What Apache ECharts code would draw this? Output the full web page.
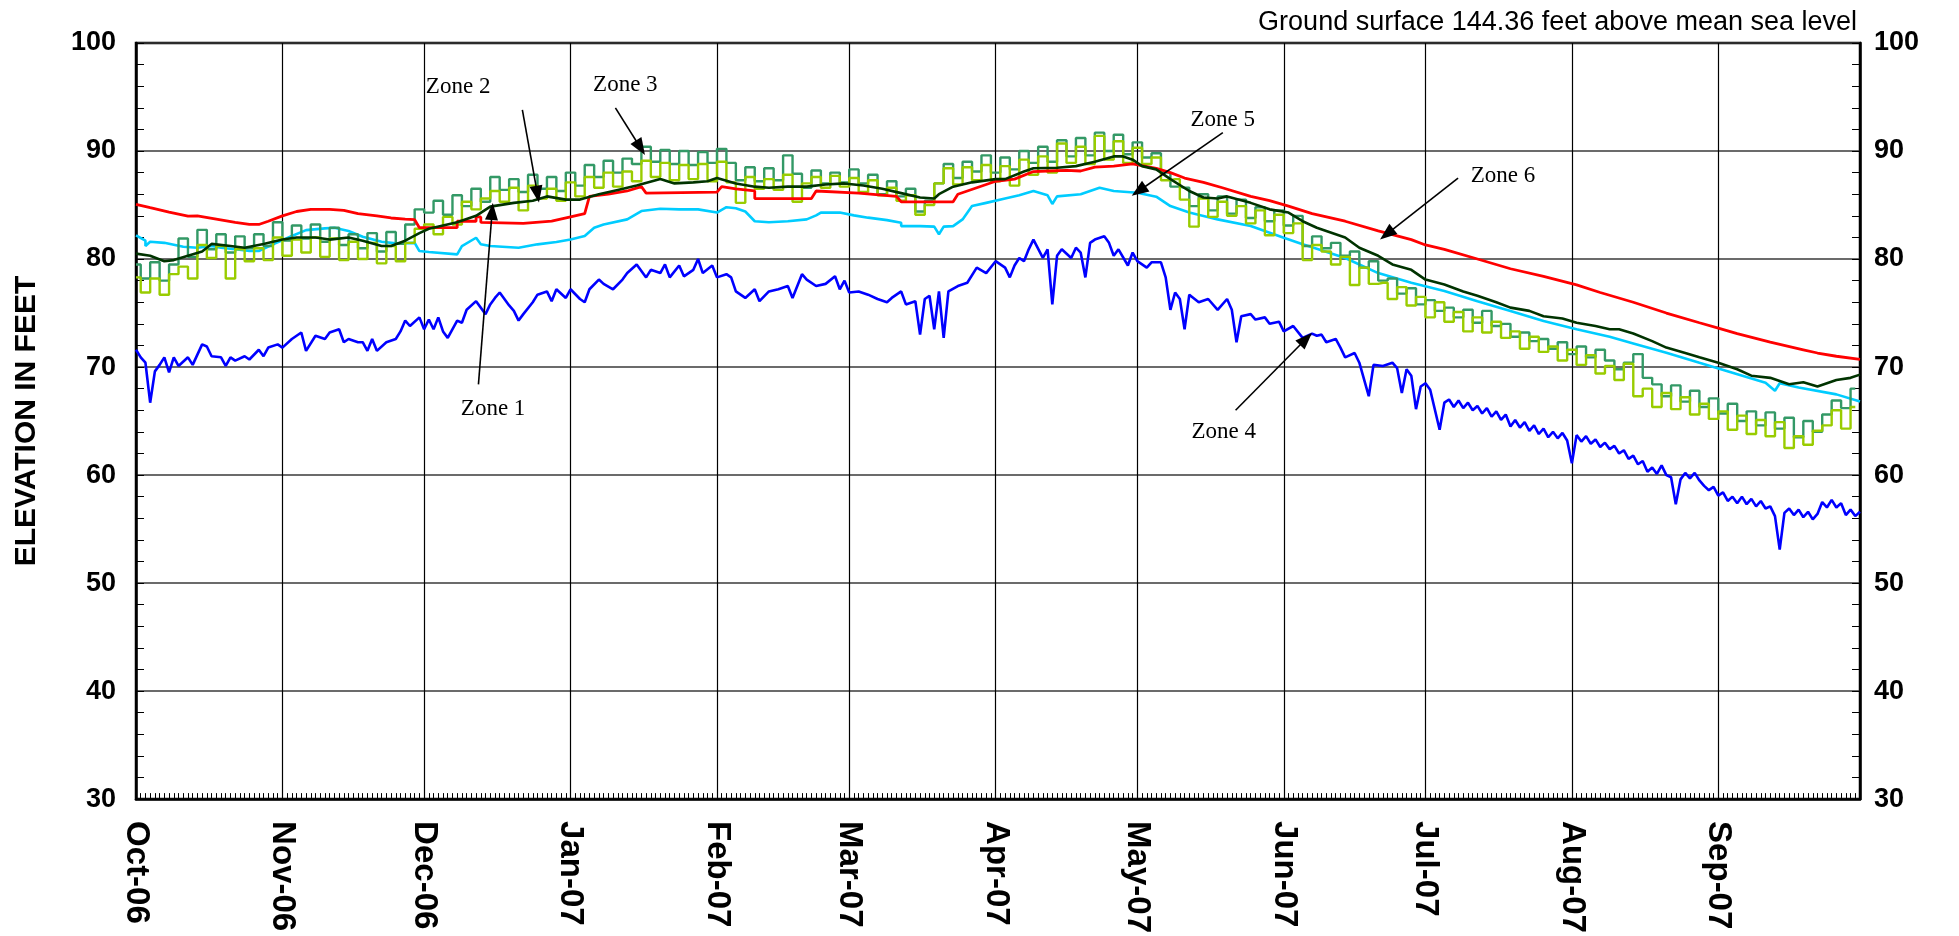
<!DOCTYPE html>
<html><head><meta charset="utf-8">
<script src="https://cdn.jsdelivr.net/npm/echarts@6/dist/echarts.min.js"></script>
<style>html,body{margin:0;padding:0;background:#fff}#c{width:1959px;height:936px}</style>
</head><body><div id="c"></div>
<script>
// ---- axis definitions ----
const monthLabels = ['Oct-06','Nov-06','Dec-06','Jan-07','Feb-07','Mar-07','Apr-07','May-07','Jun-07','Jul-07','Aug-07','Sep-07'];
const monthStartDays = [0,31,61,92,123,151,182,212,243,273,304,335];
const totalDays = 365;
const yMin = 30, yMax = 100, yStep = 10;

// ---- Zone 3 (teal) – every 2 days from Oct 1 2006 ----
const zone3Vals = [79.5,78.2,79.7,78.0,79.5,81.9,80.2,82.7,80.9,82.3,80.6,82.1,81.0,82.3,81.2,83.4,81.7,83.1,81.9,83.2,
81.6,82.9,81.3,82.3,81.0,82.4,80.7,82.5,81.4,83.2,84.6,84.3,85.4,84.1,85.9,84.9,86.5,85.3,87.6,86.4,
87.4,86.2,87.8,86.5,87.6,86.3,88.0,86.8,88.7,87.6,89.1,88.0,89.3,88.8,90.4,89.0,90.1,88.8,90.0,88.7,
89.9,88.9,90.2,88.9,87.3,88.5,87.2,88.4,87.3,89.6,87.9,86.6,88.2,87.0,88.0,87.1,88.3,87.0,87.8,86.0,
87.2,85.8,86.5,84.4,85.4,87.0,88.8,87.5,89.0,88.1,89.6,88.0,89.4,88.3,90.0,88.9,90.4,89.0,91.0,89.5,
91.2,89.6,91.7,90.0,91.5,89.7,90.8,89.4,89.8,88.0,86.7,86.6,84.9,86.0,84.5,85.8,84.2,85.5,83.8,84.8,
83.5,84.5,83.1,84.0,81.2,82.1,81.0,81.5,80.3,80.7,79.2,79.8,78.0,78.2,76.8,77.3,75.8,76.2,75.2,75.5,
74.6,75.3,74.1,75.2,73.8,74.0,72.8,73.2,72.4,72.6,71.7,72.3,71.2,71.9,70.9,71.6,70.6,69.8,70.4,71.2,
69.0,68.4,67.3,68.3,66.8,67.8,66.3,67.1,65.7,66.6,65.0,65.9,64.6,65.8,64.3,65.3,63.5,65.0,64.0,65.6,
66.9,66.2,68.0];

// ---- Zone 2 (yellow-green) – every 2 days ----
const zone2Vals = [78.3,76.9,78.2,76.7,78.6,79.3,78.2,81.3,80.1,81.2,78.2,80.9,79.8,81.0,79.9,82.0,80.3,81.8,80.6,82.0,
80.2,81.9,79.9,81.6,80.0,81.5,79.6,81.2,79.8,81.5,82.8,83.2,82.3,83.9,83.2,85.3,84.6,85.6,86.3,85.3,
86.6,84.5,86.8,85.6,86.5,85.4,87.1,85.8,87.6,86.6,88.0,86.7,88.1,87.2,89.1,87.6,88.9,87.3,88.7,87.4,
88.8,87.2,89.0,87.1,85.2,87.6,86.5,87.4,86.4,87.8,85.3,87.0,87.6,86.6,87.7,86.7,87.5,86.2,87.3,85.9,
86.6,85.4,85.9,84.1,85.0,87.0,88.4,86.9,88.5,87.3,88.7,87.2,88.6,86.8,89.2,87.8,89.5,88.0,90.7,88.9,
90.4,88.8,91.4,89.2,90.9,88.9,90.3,88.8,89.4,87.3,87.4,85.5,83.0,85.6,83.9,85.3,84.0,84.9,83.3,84.5,
82.2,84.1,82.4,83.3,79.9,81.3,80.7,79.5,80.2,77.6,79.2,77.7,77.8,76.3,77.4,75.7,76.5,74.6,76.0,74.2,
75.1,73.3,74.6,73.2,74.2,72.7,73.3,71.7,72.8,71.4,71.9,70.6,71.6,70.2,71.1,69.4,70.1,68.8,70.3,67.3,
68.0,66.3,67.6,66.1,67.2,65.6,66.6,65.2,65.9,64.2,65.5,63.8,65.1,63.6,64.9,62.5,63.6,62.8,64.1,64.6,
66.0,64.3,66.3];

// ---- Zone 1 (dark green) [day, ft] ----
const zone1 = [[0,80.5],[3,80.3],[6,79.8],[8,79.9],[11,80.3],[14,80.7],[16,81.4],[20,81.2],[23,81.05],[27,81.4],[31,81.8],[34,82.0],[38,82.0],[41,81.8],[45,82.0],[48,81.7],[52,81.2],[54,81.2],[57,81.7],[60,82.4],[62,82.8],[65,83.1],[68,83.4],[72,84.0],[75,84.85],[80,85.2],[84,85.4],[87,85.8],[91,85.5],[94,85.5],[98,86.0],[102,86.4],[106,86.8],[111,87.4],[114,87.0],[118,87.1],[121,87.2],[123,87.5],[127,87.0],[131,86.7],[134,86.6],[138,86.7],[142,86.7],[146,86.9],[150,87.0],[154,86.8],[158,86.5],[162,86.1],[166,85.7],[169,85.6],[170,86.0],[173,86.7],[177,87.1],[182,87.4],[184,87.4],[188,88.1],[190,88.4],[195,88.45],[199,88.6],[203,89.0],[207,89.5],[209,89.5],[211,89.2],[213,88.6],[216,88.3],[219,87.4],[223,86.3],[226,85.7],[229,85.6],[231,85.8],[236,85.2],[240,84.6],[244,84.3],[247,83.5],[250,82.9],[252,82.6],[256,82.0],[259,81.05],[263,80.3],[266,79.5],[270,79.0],[273,78.1],[277,77.65],[281,77.0],[284,76.6],[288,76.0],[291,75.5],[295,75.2],[298,74.7],[302,74.5],[305,74.1],[309,73.8],[312,73.5],[314,73.5],[317,73.1],[321,72.4],[324,71.8],[328,71.3],[331,70.9],[335,70.4],[339,69.8],[342,69.2],[346,69.0],[350,68.4],[353,68.6],[356,68.2],[360,68.8],[363,69.0],[365,69.3]];

// ---- Zone 4 (blue) [day, ft] ----
const zone4 = [[0,71.6],[1,70.9],[2,70.4],[3,66.7],[4,69.6],[5,70.2],[6,70.9],[7,69.5],[8,70.9],[9,70.1],[11,70.9],[12,70.2],[14,72.1],[15,71.9],[16,71.0],[18,70.9],[19,70.1],[20,70.9],[21,70.6],[23,71.0],[24,70.7],[26,71.6],[27,71.0],[28,71.8],[30,72.1],[31,71.8],[33,72.6],[35,73.2],[36,71.5],[38,72.9],[40,72.6],[41,73.2],[43,73.5],[44,72.3],[45,72.6],[47,72.3],[48,72.3],[49,71.5],[50,72.6],[51,71.5],[53,72.3],[55,72.6],[56,73.3],[57,74.3],[58,73.8],[60,74.6],[61,73.5],[62,74.4],[63,73.5],[64,74.6],[65,73.3],[66,72.7],[68,74.3],[69,74.1],[70,75.3],[72,76.1],[74,74.9],[75,75.8],[76,76.4],[77,76.9],[79,75.7],[80,75.2],[81,74.3],[82,74.9],[84,76.0],[85,76.7],[87,77.0],[88,76.1],[89,77.2],[91,76.4],[92,77.2],[94,76.3],[95,76.0],[96,77.2],[98,78.1],[99,77.7],[101,77.2],[103,78.1],[104,78.7],[106,79.5],[107,78.9],[108,78.3],[109,79.0],[111,78.7],[112,79.5],[113,78.3],[115,79.4],[116,78.4],[118,79.0],[119,80.0],[120,78.7],[122,79.4],[123,78.3],[125,78.6],[126,78.3],[127,77.0],[129,76.4],[131,77.2],[132,76.1],[134,77.0],[136,77.2],[138,77.5],[139,76.4],[141,78.6],[142,78.1],[144,77.5],[146,77.7],[148,78.4],[149,77.2],[150,78.0],[151,76.9],[153,77.0],[155,76.7],[157,76.3],[159,76.0],[160,76.4],[162,77.0],[163,75.8],[165,76.1],[166,73.0],[167,76.3],[168,76.6],[169,73.5],[170,77.0],[171,72.7],[172,77.0],[174,77.5],[176,77.8],[178,79.2],[180,78.7],[182,79.8],[184,79.2],[185,78.3],[186,79.4],[187,80.1],[188,79.8],[189,80.9],[190,81.8],[192,80.1],[193,80.9],[194,75.8],[195,80.3],[196,80.9],[198,80.1],[199,81.05],[200,80.6],[201,78.3],[202,81.5],[203,81.8],[205,82.1],[206,81.5],[207,80.3],[208,80.9],[210,79.4],[211,80.6],[212,79.8],[214,79.2],[215,79.7],[217,79.7],[218,78.3],[219,75.3],[220,76.9],[221,76.3],[222,73.5],[223,76.7],[225,76.0],[227,76.3],[229,75.3],[231,76.3],[232,75.3],[233,72.3],[234,74.7],[236,74.9],[237,74.4],[239,74.6],[240,74.0],[242,74.2],[243,73.3],[245,73.8],[247,72.7],[249,73.1],[250,72.9],[251,73.0],[252,72.3],[254,72.6],[255,71.8],[256,70.9],[258,71.3],[259,70.4],[261,67.3],[262,70.2],[264,70.1],[266,70.4],[267,69.9],[268,67.6],[269,69.8],[270,69.2],[271,66.1],[272,68.2],[273,68.5],[274,67.9],[276,64.2],[277,66.7],[278,67.0],[279,66.3],[280,66.9],[281,66.2],[282,66.7],[283,66.0],[284,66.4],[285,65.7],[286,66.2],[287,65.4],[288,65.9],[289,65.1],[290,65.6],[291,64.5],[292,65.1],[293,64.4],[294,64.9],[295,64.1],[296,64.6],[297,63.8],[298,64.3],[299,63.5],[300,64.0],[301,63.4],[302,63.9],[303,63.2],[304,61.1],[305,63.7],[306,63.1],[307,63.6],[308,62.9],[309,63.3],[310,62.6],[311,63.0],[312,62.4],[313,62.7],[314,62.0],[315,62.3],[316,61.5],[317,61.8],[318,61.0],[319,61.3],[320,60.3],[321,60.7],[322,60.1],[323,60.9],[324,60.0],[325,59.8],[326,57.3],[327,59.6],[328,60.2],[329,59.7],[330,60.2],[331,59.5],[332,59.0],[333,58.6],[334,58.9],[335,58.1],[336,58.4],[337,57.6],[338,58.0],[339,57.4],[340,58.0],[341,57.3],[342,57.8],[343,57.1],[344,57.6],[345,56.9],[346,57.1],[347,56.2],[348,53.1],[349,56.5],[350,56.9],[351,56.3],[352,56.8],[353,56.1],[354,56.6],[355,55.9],[356,56.4],[357,57.5],[358,57.0],[359,57.7],[360,57.0],[361,57.4],[362,56.3],[363,56.8],[364,56.2],[365,56.6]];

// ---- Zone 5 (cyan) [day, ft] ----
const zone5 = [[0,82.2],[2,81.7],[2,81.2],[3,81.6],[6,81.5],[10,81.14],[13,81.05],[16,81.2],[18,81.05],[21,80.9],[24,80.74],[26,80.74],[29,81.36],[33,82.13],[36,82.68],[40,82.84],[42,82.9],[45,82.6],[48,82.07],[52,81.6],[55,81.45],[59,81.5],[60,80.74],[62,80.65],[68,80.43],[69,81.2],[72,81.97],[73,81.36],[75,81.2],[81,81.05],[85,81.36],[89,81.57],[92,81.8],[95,82.13],[97,82.9],[99,83.2],[104,83.67],[107,84.44],[111,84.66],[115,84.6],[119,84.6],[123,84.3],[125,84.8],[127,84.7],[129,84.4],[131,83.5],[134,83.4],[138,83.5],[142,83.67],[144,84.04],[145,84.3],[149,84.3],[152,84.04],[155,83.83],[159,83.6],[162,83.36],[162,83.05],[166,83.05],[169,83.0],[170,82.3],[171,83.0],[173,83.05],[175,83.67],[177,84.9],[180,85.2],[184,85.6],[187,85.9],[190,86.3],[193,85.9],[194,85.1],[195,85.8],[200,86.0],[204,86.6],[207,86.3],[212,86.14],[216,85.77],[219,84.9],[223,84.3],[229,83.67],[236,83.06],[243,81.97],[247,81.36],[250,80.96],[256,80.1],[263,78.7],[270,77.8],[277,77.04],[284,76.1],[291,75.19],[298,74.26],[305,73.5],[312,72.8],[317,72.19],[324,71.33],[331,70.4],[338,69.48],[345,68.55],[347,67.8],[348,68.5],[352,68.1],[360,67.47],[365,66.8]];

// ---- Zone 6 (red) [day, ft] ----
const zone6 = [[0,85.06],[3,84.75],[7,84.35],[11,83.98],[13,84.0],[17,83.7],[21,83.4],[24,83.2],[26,83.2],[28,83.5],[31,84.0],[34,84.4],[37,84.6],[41,84.6],[44,84.5],[47,84.2],[51,84.0],[54,83.8],[57,83.7],[59,83.65],[60,82.9],[68,82.9],[68,83.5],[72,83.5],[72,83.9],[73,83.9],[73,83.4],[82,83.3],[88,83.5],[92,83.9],[95,84.2],[96,85.8],[100,86.0],[104,86.3],[107,86.7],[108,86.1],[123,86.2],[124,86.7],[127,86.5],[131,86.3],[131,85.6],[143,85.6],[144,86.3],[153,86.1],[161,85.8],[162,85.3],[173,85.3],[174,86.0],[178,86.6],[182,87.2],[186,87.4],[190,88.1],[193,88.15],[197,88.2],[200,88.15],[203,88.5],[207,88.6],[211,88.8],[216,88.4],[219,88.0],[222,87.5],[226,87.1],[230,86.6],[236,85.8],[240,85.4],[244,84.9],[249,84.2],[256,83.5],[263,82.6],[270,81.8],[273,81.3],[277,80.9],[284,80.0],[291,79.1],[298,78.4],[305,77.6],[310,76.9],[317,76.0],[324,75.0],[331,74.1],[335,73.6],[339,73.1],[346,72.3],[353,71.6],[356,71.3],[360,71.0],[365,70.7]];

// ---- annotations (data coordinates: day, ft) ----
const zoneLabels = [
  {text:'Zone 2', day:68.2, ft:95.9},
  {text:'Zone 3', day:103.6, ft:96.1},
  {text:'Zone 1', day:75.6, ft:66.1},
  {text:'Zone 5', day:230.1, ft:92.9},
  {text:'Zone 6', day:289.4, ft:87.7},
  {text:'Zone 4', day:230.3, ft:64.0}
];
const zoneArrows = [
  [[81.8,93.8],[85.0,86.0]],
  [[101.5,94.0],[106.8,90.3]],
  [[72.5,68.4],[75.4,84.4]],
  [[230.1,91.7],[212.3,86.3]],
  [[279.9,87.5],[264.8,82.3]],
  [[232.8,66.0],[247.7,72.6]]
];

const SANS = "'Liberation Sans', Arial, sans-serif";
const SERIF = "'Liberation Serif', 'Times New Roman', serif";

const dayCats = [];
for (let i = 0; i <= totalDays; i++) dayCats.push(String(i));
const isMonthStart = (i) => monthStartDays.indexOf(i) >= 0;

const chart = echarts.init(document.getElementById('c'), null, {renderer:'canvas'});

function lineSeries(name, data, color, width, step) {
  return {
    name, type:'line', xAxisIndex:1, yAxisIndex:0, data,
    showSymbol:false, symbol:'none', animation:false, step:step || false,
    lineStyle:{color, width:width || 2.6}, itemStyle:{color}, z:2
  };
}

const yAxisCommon = {
  type:'value', min:yMin, max:yMax, interval:yStep,
  axisLine:{show:true, lineStyle:{color:'#000', width:2.5}},
  axisTick:{show:true, inside:true, length:8, lineStyle:{color:'#000', width:1}},
  minorTick:{show:true, splitNumber:5, length:8, lineStyle:{color:'#000', width:1}},
  axisLabel:{color:'#000', fontFamily:SANS, fontWeight:'bold', fontSize:27}
};

chart.setOption({
  animation:false,
  backgroundColor:'#fff',
  title:{
    text:'Ground surface 144.36 feet above mean sea level',
    right:97, top:4,
    textStyle:{fontFamily:SANS, fontWeight:'normal', fontSize:27, color:'#000'}
  },
  grid:{left:136, right:99, top:43, bottom:135, show:true, borderColor:'#000', borderWidth:2.5, backgroundColor:'transparent'},
  xAxis:[
    {
      type:'category', data:dayCats, boundaryGap:false, position:'bottom',
      axisLine:{show:true, lineStyle:{color:'#000', width:2.5}},
      axisTick:{show:true, interval:0, inside:true, length:6, lineStyle:{color:'#000', width:1}},
      axisLabel:{
        interval:(i) => isMonthStart(i),
        formatter:(v, i) => { const k = monthStartDays.indexOf(i); return k >= 0 ? monthLabels[k] : ''; },
        rotate:-90, margin:22, color:'#000', fontFamily:SANS, fontWeight:'bold', fontSize:33
      },
      splitLine:{show:true, interval:(i) => i > 0 && isMonthStart(i), lineStyle:{color:'#000', width:1.2}}
    },
    {type:'value', min:0, max:totalDays, show:false, position:'top'}
  ],
  yAxis:[
    Object.assign({}, yAxisCommon, {
      position:'left',
      axisLabel:Object.assign({}, yAxisCommon.axisLabel, {margin:20}),
      splitLine:{show:true, lineStyle:{color:'#3a3a3a', width:1.5}},
      name:'ELEVATION IN FEET', nameLocation:'middle', nameGap:94, nameRotate:90,
      nameTextStyle:{color:'#000', fontFamily:SANS, fontWeight:'bold', fontSize:30}
    }),
    Object.assign({}, yAxisCommon, {
      position:'right',
      axisLabel:Object.assign({}, yAxisCommon.axisLabel, {margin:14}),
      splitLine:{show:false}
    })
  ],
  series:[
    lineSeries('Zone 4', zone4, '#0000ff'),
    lineSeries('Zone 5', zone5, '#00ccff'),
    lineSeries('Zone 3', zone3Vals.map((v, i) => [i * 2, v]), '#339966', 2.4, 'middle'),
    lineSeries('Zone 2', zone2Vals.map((v, i) => [i * 2, v]), '#99cc00', 2.4, 'middle'),
    lineSeries('Zone 6', zone6, '#ff0000', 2.8),
    lineSeries('Zone 1', zone1, '#003300'),
    {
      name:'annotations', type:'line', xAxisIndex:1, yAxisIndex:0, data:[], z:5,
      markLine:{
        silent:true, animation:false, symbol:['none','triangle'], symbolSize:[13,17],
        lineStyle:{color:'#000', width:1.6, type:'solid'}, label:{show:false},
        emphasis:{disabled:true},
        data:zoneArrows.map(a => [{coord:a[0]}, {coord:a[1]}])
      },
      markPoint:{
        silent:true, animation:false, symbol:'circle', symbolSize:1,
        itemStyle:{color:'rgba(0,0,0,0)'},
        label:{show:true, position:'inside', color:'#000', fontFamily:SERIF, fontSize:23},
        data:zoneLabels.map(z => ({coord:[z.day, z.ft], value:z.text, label:{formatter:z.text}}))
      }
    }
  ]
});
</script>
</body></html>
